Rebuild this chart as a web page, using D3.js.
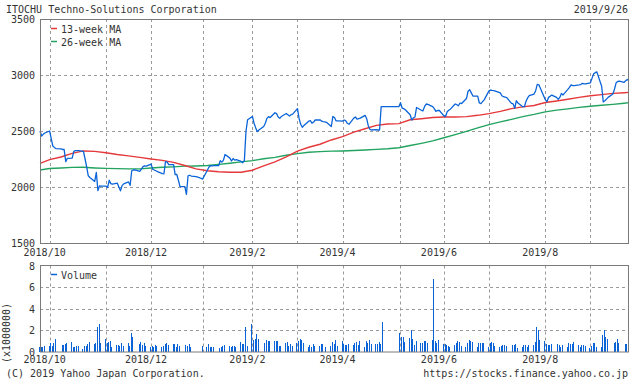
<!DOCTYPE html>
<html lang="ja">
<head>
  <meta charset="UTF-8">
  <title>ITOCHU Techno-Solutions Corporation</title>
  <script src="https://d3js.org/d3.v7.min.js"></script>
  <style>
    html, body {
      margin: 0;
      padding: 0;
      overflow: hidden;
      background: #fff;
    }
    svg {
      display: block;
      font-family: "DejaVu Sans Mono", monospace;
      font-size: 10px;
    }
    .grid line {
      stroke: #9a9a9a;
      stroke-dasharray: 3,3;
    }
    .frame {
      fill: none;
      stroke: #7a7a7a;
    }
    text {
      fill: #333;
    }
  </style>
</head>
<body>
  <svg width="630" height="382"></svg>

  <script>
    // --- data (weekdays from 2018/9/25 to 2019/9/26, one row per week) ---
    const holidays = [
      "2018-10-08", "2018-11-23", "2018-12-24", "2018-12-31",
      "2019-01-01", "2019-01-02", "2019-01-03", "2019-01-14", "2019-02-11", "2019-03-21",
      "2019-04-29", "2019-04-30", "2019-05-01", "2019-05-02", "2019-05-03", "2019-05-06",
      "2019-07-15", "2019-08-12", "2019-09-16", "2019-09-23"
    ];

    const closes = [
      2500, 2455, 2470, 2482,
      2500, 2430, 2365, 2352, 2342,
      2340, 2335, 2335, 2226, 2256,
      2258, 2318, 2324, 2324, 2324,
      2318, 2250, 2180, 2100, 2085,
      2050, 2130, 1968, 2010, 2008,
      2008, 1995, 2060, 2030, 2025,
      2035, 2000, 1966, 2012, 2028,
      2045, 2015, 2145, 2152, 2152,
      2140, 2160, 2182, 2188, 2186,
      2205, 2160, 2152, 2145, 2138,
      2120, 2118, 2226, 2222, 2200,
      2200, 2110, 2112, 2060, 2003,
      2003, 1935, 2100, 2105, 2098,
      2092, 2088, 2084, 2078, 2070,
      2150, 2178, 2190, 2188, 2190,
      2190, 2235, 2222, 2240, 2290,
      2258, 2232, 2254, 2240, 2245,
      2228, 2217, 2238, 2500, 2600,
      2630, 2569, 2530, 2494, 2509,
      2540, 2569, 2613, 2628, 2620,
      2663, 2655, 2625, 2613, 2630,
      2656, 2645, 2634, 2645, 2650,
      2700, 2610, 2560, 2533, 2550,
      2588, 2592, 2569, 2580, 2598,
      2600, 2588, 2583, 2582, 2578,
      2540, 2630, 2620, 2590, 2590,
      2588, 2598, 2590, 2569, 2560,
      2615, 2625, 2605, 2610, 2615,
      2640, 2610, 2545, 2515, 2509,
      2512, 2509, 2509, 2717, 2717,
      2717, 2717, 2717, 2717, 2717,
      2717, 2753, 2705, 2700, 2690,
      2645, 2598, 2618, 2625, 2710,
      2685, 2680, 2720, 2741, 2738,
      2717, 2700, 2675, 2683, 2685,
      2635, 2630, 2672, 2685, 2695,
      2741, 2735, 2725, 2750, 2745,
      2790, 2855, 2868, 2840, 2812,
      2812, 2750, 2745, 2762, 2778,
      2858, 2866, 2862, 2860, 2856,
      2840, 2815, 2806, 2803, 2798,
      2747, 2742, 2703, 2770, 2750,
      2717, 2717, 2765, 2795, 2815,
      2830, 2860, 2917, 2912, 2880,
      2780, 2762, 2800, 2810, 2821,
      2800, 2783, 2800, 2836, 2822,
      2872, 2890, 2911, 2905, 2905,
      2911, 2915, 2926, 2920, 2920,
      2930, 2970, 3010, 3021, 3028,
      2900, 2760, 2770, 2785, 2800,
      2830, 2875, 2930, 2942, 2945,
      2935, 2950, 2960, 2950
    ];

    // volume in millions of shares (0 = market closed)
    const volumes = [
      0.45, 0.5, 0.45, 0.55,
      0.58, 0.8, 0.58, 0.8, 1.2,
      0, 0.65, 0.65, 0.71, 0.86,
      0.89, 0.49, 0.49, 0.55, 0.58,
      0.28, 0.58, 0.58, 0.71, 0.89,
      0.75, 0.85, 2.3, 2.55, 0.85,
      1.2, 0.85, 0.95, 1.0, 0.5,
      0.65, 0.65, 0.58, 0.8, 0.55,
      0.85, 0.55, 1.72, 1.42, 0,
      0.74, 0.92, 0.65, 0.8, 0.6,
      0.49, 0.6, 0.5, 0.65, 0.6,
      0.49, 0.58, 0.74, 0.8, 0.65,
      0.71, 0.74, 0.5, 0.74, 0.55,
      0, 0.65, 0.55, 0.74, 0.5,
      0, 0, 0, 0, 0.55,
      0.49, 0.74, 0.49, 0.49, 0.45,
      0, 0.4, 0.49, 0.55, 0.68,
      0.6, 0.49, 0.55, 0.55, 0.45,
      0.92, 0.77, 0.7, 2.33, 0.6,
      2.58, 1.1, 1.23, 1.66, 1.23,
      0, 0.86, 1.1, 1.0, 1.05,
      1.0, 1.0, 1.05, 0.55, 0.6,
      0.8, 0.92, 0.55, 0.74, 0.6,
      0.8, 1.0, 1.23, 1.14, 0.85,
      0.5, 0.62, 0.5, 0.77, 0.6,
      0.55, 0.74, 0.74, 0, 0.49,
      0.58, 0.89, 0.74, 1.11, 0.6,
      1.02, 0.71, 0.65, 0.65, 0.74,
      0.61, 0.8, 0.89, 0.61, 1.02,
      0.49, 1.02, 0.8, 1.11, 0.7,
      0.74, 0.74, 0.89, 0.74, 2.76,
      0, 0, 0, 0, 0,
      0, 1.8, 1.35, 1.41, 0.92,
      1.26, 2.0, 1.17, 0.61, 1.02,
      0.8, 0.8, 1.02, 1.02, 0.8,
      1.11, 6.73, 1.02, 0.8, 1.11,
      0.74, 0.74, 0.65, 0.6, 0.49,
      0.65, 0.8, 1.02, 0.89, 0.55,
      0.49, 0.8, 1.11, 1.02, 0.89,
      0.49, 0.8, 0.8, 0.8, 0.8,
      0.49, 0.8, 0.89, 0.8, 0.55,
      0.49, 0.58, 0.65, 0.65, 0.55,
      0, 0.65, 0.65, 0.74, 0.34,
      0.49, 0.61, 0.65, 0.49, 0.65,
      0.61, 0.89, 2.33, 2.03, 1.11,
      1.02, 0.74, 0.65, 0.65, 0.74,
      0, 0.74, 0.65, 0.49, 0.61,
      0.49, 0.8, 0.74, 0.74, 0.89,
      0.61, 0.49, 0.65, 0.61, 0.58,
      0.34, 0.58, 0.8, 0.8, 0.49,
      0.49, 1.57, 2.03, 1.41, 1.2,
      0, 0.8, 0.92, 1.2, 0.8,
      0, 0.74, 0.74, 0.74
    ];

    // moving averages, one value at the start of each week + the last day
    const ma13 = [
      2211, 2245, 2268, 2300, 2322, 2318, 2306, 2290, 2278, 2265,
      2250, 2238, 2220, 2192, 2162, 2145, 2136, 2132, 2132, 2150,
      2188, 2225, 2268, 2320, 2355, 2382, 2420, 2450, 2490, 2520,
      2550, 2563, 2566, 2600, 2610, 2620, 2625, 2625, 2628, 2640,
      2655, 2675, 2700, 2715, 2728, 2754, 2768, 2783, 2800, 2815,
      2825, 2836, 2842, 2845
    ];
    const ma26 = [
      2152, 2165, 2170, 2175, 2176, 2170, 2166, 2164, 2162, 2162,
      2170, 2176, 2180, 2186, 2188, 2192, 2202, 2212, 2224, 2235,
      2252, 2265, 2284, 2298, 2310, 2316, 2320, 2322, 2326, 2330,
      2336, 2341, 2350, 2370, 2390, 2412, 2440, 2468, 2497, 2528,
      2557, 2582, 2604, 2628, 2648, 2671, 2686, 2698, 2711, 2721,
      2730, 2738, 2748, 2753
    ];

    const gridDates = ["2018-10-01", "2018-11-05", "2018-12-03", "2019-01-04", "2019-02-04", "2019-03-04",
                       "2019-04-01", "2019-05-07", "2019-06-03", "2019-07-01", "2019-08-05", "2019-09-02"];
    const labelDates = ["2018-10-01", "2018-12-03", "2019-02-04", "2019-04-01", "2019-06-03", "2019-08-05"];
    const labelTexts = ["2018/10", "2018/12", "2019/2", "2019/4", "2019/6", "2019/8"];
    const priceTicks = [1500, 2000, 2500, 3000, 3500];
    const volTicks = [0, 2, 4, 6, 8];

    // --- setup ---
    const parse = d3.timeParse("%Y-%m-%d");
    const fmt = d3.timeFormat("%Y-%m-%d");
    const start = new Date(2018, 8, 25), end = new Date(2019, 8, 26);

    const days = [];
    for (let d = new Date(start); d <= end; d.setDate(d.getDate() + 1)) {
      if (d.getDay() !== 0 && d.getDay() !== 6) days.push(new Date(d));
    }
    const holidaySet = new Set(holidays);
    const series = days.map((d, i) => ({
      date: d, close: closes[i], vol: volumes[i], closed: holidaySet.has(fmt(d))
    }));
    const weekStarts = days.filter((d, i) => i === 0 || d.getDay() === 1).concat([end]);

    const svg = d3.select("svg");
    const left = 40, right = 629;
    const x = d3.scaleTime().domain([start, end]).range([left, right]);
    const y = d3.scaleLinear().domain([1500, 3500]).range([243, 19]);
    const yv = d3.scaleLinear().domain([0, 8]).range([352, 265.5]);

    const blue = "#0a64d8", red = "#e5383b", green = "#22a35f";

    // gridlines
    const grid = svg.append("g").attr("class", "grid");
    gridDates.forEach(s => {
      const gx = Math.round(x(parse(s))) + 0.5;
      grid.append("line").attr("x1", gx).attr("x2", gx).attr("y1", 19).attr("y2", 243);
      grid.append("line").attr("x1", gx).attr("x2", gx).attr("y1", 265.5).attr("y2", 352);
    });
    priceTicks.slice(1, -1).forEach(v => {
      const gy = Math.round(y(v)) + 0.5;
      grid.append("line").attr("x1", left).attr("x2", right).attr("y1", gy).attr("y2", gy);
    });
    volTicks.slice(1, -1).forEach(v => {
      const gy = Math.round(yv(v)) + 0.5;
      grid.append("line").attr("x1", left).attr("x2", right).attr("y1", gy).attr("y2", gy);
    });

    // volume bars (skip market holidays)
    svg.append("g")
      .attr("shape-rendering", "crispEdges")
      .selectAll("rect")
      .data(series.filter(d => !d.closed && d.vol > 0))
      .enter().append("rect")
      .attr("x", d => Math.round(x(d.date)) - 1)
      .attr("width", 1)
      .attr("y", d => yv(d.vol))
      .attr("height", d => yv(0) - yv(d.vol))
      .attr("fill", blue);

    // lines
    const line = d3.line().x(d => x(d[0])).y(d => y(d[1]));
    svg.append("path")
      .datum(weekStarts.map((d, i) => [d, ma26[i]]))
      .attr("d", line).attr("fill", "none").attr("stroke", green).attr("stroke-width", 1.4);
    svg.append("path")
      .datum(weekStarts.map((d, i) => [d, ma13[i]]))
      .attr("d", line).attr("fill", "none").attr("stroke", red).attr("stroke-width", 1.4);
    svg.append("path")
      .datum(series.map(d => [d.date, d.close]))
      .attr("d", line).attr("fill", "none").attr("stroke", blue).attr("stroke-width", 1.3)
      .attr("stroke-linejoin", "round");

    // frames
    svg.append("rect").attr("class", "frame")
      .attr("x", left + 0.5).attr("y", 19.5).attr("width", right - left - 1).attr("height", 224);
    svg.append("rect").attr("class", "frame")
      .attr("x", left + 0.5).attr("y", 265.5).attr("width", right - left - 1).attr("height", 86.5);

    // y axis labels
    priceTicks.forEach(v => {
      svg.append("text").attr("x", 35).attr("y", y(v) + 4)
        .attr("text-anchor", "end").text(v);
    });
    volTicks.forEach(v => {
      svg.append("text").attr("x", 35).attr("y", yv(v) + 4)
        .attr("text-anchor", "end").text(v);
    });
    svg.append("text")
      .attr("transform", "translate(10,333) rotate(-90)")
      .attr("text-anchor", "middle").text("(x1000000)");

    // x labels (both panels)
    labelDates.forEach((s, i) => {
      const lx = x(parse(s)) - 5;
      svg.append("text").attr("x", lx).attr("y", 255.5).attr("text-anchor", "middle").text(labelTexts[i]);
      svg.append("text").attr("x", lx).attr("y", 362.5).attr("text-anchor", "middle").text(labelTexts[i]);
    });

    // legends
    const legend = [
      { y: 28.5, color: red, label: "13-week MA" },
      { y: 41.5, color: green, label: "26-week MA" },
      { y: 274.5, color: blue, label: "Volume" }
    ];
    legend.forEach(l => {
      svg.append("line").attr("x1", 51).attr("x2", 57).attr("y1", l.y).attr("y2", l.y)
        .attr("stroke", l.color).attr("stroke-width", 1.5);
      svg.append("text").attr("x", 61).attr("y", l.y + 4).text(l.label);
    });

    // header and footer
    svg.append("text").attr("x", 6).attr("y", 13).text("ITOCHU Techno-Solutions Corporation");
    svg.append("text").attr("x", 628).attr("y", 13).attr("text-anchor", "end").text("2019/9/26");
    svg.append("text").attr("x", 6).attr("y", 377).text("(C) 2019 Yahoo Japan Corporation.");
    svg.append("text").attr("x", 628).attr("y", 377).attr("text-anchor", "end")
      .text("https://stocks.finance.yahoo.co.jp");
  </script>
</body>
</html>
